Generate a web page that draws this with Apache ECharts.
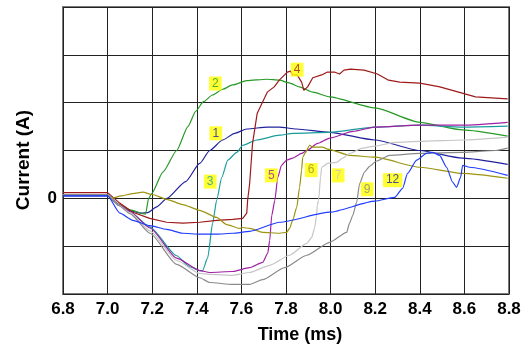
<!DOCTYPE html>
<html>
<head>
<meta charset="utf-8">
<script src="https://cdn.jsdelivr.net/npm/echarts@6/dist/echarts.min.js"></script>
<style>
  html, body { margin: 0; padding: 0; background: #fff; }
  #chart { width: 526px; height: 345px; }
</style>
</head>
<body>
<div id="chart"></div>
<script>
// Axis ticks
const timeTicks = [6.8, 7.0, 7.2, 7.4, 7.6, 7.8, 8.0, 8.2, 8.4, 8.6, 8.8];
const currentTickLabels = { 0: '0' };

// Current traces, [time (ms), current] pairs
const trace1 = [[6.8,0.05],[7.0,0.05],[7.05,-0.14],[7.1,-0.26],[7.15,-0.31],[7.18,-0.3],[7.22,-0.18],[7.266,0],[7.35,0.35],[7.413,0.73],[7.458,1.0],[7.516,1.22],[7.57,1.36],[7.624,1.45],[7.716,1.49],[7.77,1.49],[7.846,1.45],[7.996,1.38],[8.198,1.22],[8.40,1.0],[8.592,0.84],[8.794,0.71]];
const trace2 = [[6.8,0.08],[7.0,0.08],[7.05,-0.12],[7.1,-0.24],[7.17,-0.33],[7.184,0],[7.198,0.1],[7.248,0.55],[7.31,1.0],[7.36,1.5],[7.395,1.82],[7.43,2.02],[7.47,2.16],[7.516,2.28],[7.56,2.37],[7.624,2.46],[7.713,2.49],[7.77,2.47],[7.817,2.41],[7.86,2.33],[7.92,2.22],[7.996,2.12],[8.198,1.89],[8.40,1.59],[8.592,1.43],[8.794,1.30]];
const trace3 = [[6.8,0.08],[7.0,0.08],[7.05,-0.15],[7.1,-0.28],[7.19,-0.6],[7.31,-1.2],[7.368,-1.43],[7.413,-1.51],[7.426,-1.51],[7.449,-1.24],[7.471,-0.52],[7.489,-0.04],[7.512,0.44],[7.539,0.8],[7.579,0.96],[7.606,1.11],[7.668,1.22],[7.772,1.32],[7.83,1.36],[7.996,1.38],[8.198,1.49],[8.40,1.53],[8.592,1.49],[8.794,1.51]];
const trace4 = [[6.8,0.12],[7.0,0.12],[7.054,-0.1],[7.113,-0.29],[7.189,-0.42],[7.265,-0.5],[7.337,-0.52],[7.413,-0.5],[7.489,-0.46],[7.561,-0.44],[7.606,-0.42],[7.624,-0.31],[7.628,-0.04],[7.637,0.31],[7.65,1.15],[7.671,1.78],[7.716,2.22],[7.747,2.33],[7.77,2.47],[7.806,2.64],[7.82,2.66],[7.83,2.58],[7.85,2.58],[7.87,2.43],[7.88,2.26],[7.897,2.33],[7.92,2.52],[7.96,2.58],[7.986,2.64],[8.017,2.64],[8.04,2.6],[8.06,2.68],[8.09,2.7],[8.15,2.68],[8.21,2.6],[8.26,2.47],[8.31,2.43],[8.40,2.41],[8.49,2.33],[8.59,2.2],[8.65,2.12],[8.794,2.08]];
const trace5 = [[6.8,0.08],[7.0,0.08],[7.05,-0.13],[7.1,-0.28],[7.19,-0.62],[7.31,-1.25],[7.413,-1.51],[7.458,-1.55],[7.56,-1.53],[7.637,-1.45],[7.695,-1.34],[7.718,-1.15],[7.727,-0.88],[7.736,-0.36],[7.75,-0.04],[7.763,0.44],[7.78,0.69],[7.803,0.8],[7.83,0.84],[7.87,0.94],[7.893,1.0],[7.942,1.15],[7.996,1.26],[8.1,1.4],[8.198,1.49],[8.40,1.53],[8.592,1.53],[8.794,1.59]];
const trace6 = [[6.8,0.08],[7.0,0.08],[7.02,0.0],[7.06,0.05],[7.113,0.1],[7.158,0.13],[7.2,0.08],[7.265,-0.02],[7.337,-0.13],[7.413,-0.25],[7.489,-0.4],[7.534,-0.55],[7.592,-0.63],[7.606,-0.61],[7.637,-0.63],[7.695,-0.71],[7.772,-0.73],[7.803,-0.71],[7.816,-0.63],[7.83,-0.46],[7.848,-0.19],[7.861,0.23],[7.87,0.59],[7.875,0.86],[7.888,0.96],[7.906,1.11],[7.92,1.07],[7.964,1.07],[7.987,1.03],[8.085,0.9],[8.198,0.86],[8.40,0.65],[8.592,0.52],[8.794,0.42]];
const trace7 = [[6.8,0.08],[7.0,0.08],[7.05,-0.14],[7.1,-0.3],[7.19,-0.68],[7.31,-1.3],[7.413,-1.57],[7.458,-1.59],[7.56,-1.61],[7.637,-1.55],[7.727,-1.4],[7.816,-1.19],[7.893,-0.94],[7.915,-0.82],[7.928,-0.63],[7.937,-0.36],[7.94,-0.15],[7.946,-0.04],[7.955,0.44],[7.96,0.65],[7.987,0.73],[8.027,0.75],[8.054,0.84],[8.085,0.94],[8.143,1.05],[8.198,1.09],[8.29,1.17],[8.40,1.19],[8.592,1.22],[8.794,1.28]];
const trace9 = [[6.8,0.08],[7.0,0.08],[7.05,-0.15],[7.1,-0.32],[7.19,-0.73],[7.31,-1.38],[7.413,-1.66],[7.458,-1.76],[7.56,-1.8],[7.637,-1.8],[7.695,-1.7],[7.794,-1.45],[7.893,-1.19],[7.996,-0.92],[8.072,-0.71],[8.085,-0.52],[8.099,-0.36],[8.117,-0.08],[8.13,0.31],[8.152,0.55],[8.175,0.67],[8.206,0.78],[8.264,0.9],[8.40,0.94],[8.592,0.96],[8.74,1.0],[8.794,1.05]];
const trace12 = [[6.8,0.05],[7.0,0.05],[7.055,-0.31],[7.113,-0.46],[7.189,-0.57],[7.265,-0.65],[7.337,-0.73],[7.413,-0.75],[7.489,-0.75],[7.561,-0.73],[7.637,-0.69],[7.772,-0.5],[7.996,-0.29],[8.198,-0.06],[8.287,0.02],[8.323,0.21],[8.345,0.52],[8.386,0.8],[8.43,0.94],[8.458,0.96],[8.489,0.9],[8.52,0.65],[8.547,0.34],[8.565,0.23],[8.583,0.44],[8.592,0.69],[8.623,0.65],[8.794,0.48]];

// Trace tags and where they sit
const tagNames = ['1', '2', '3', '4', '5', '6', '7', '9', '12'];
const tagSpots = [[7.485,1.36],[7.483,2.4],[7.46,0.35],[7.85,2.69],[7.734,0.48],[7.913,0.59],[8.034,0.48],[8.164,0.19],[8.278,0.38]];

const traces = [trace1, trace2, trace3, trace4, trace5, trace6, trace7, trace9, trace12];
const colors = ['#20209c', '#259a25', '#1a9c9c', '#9e1a1a', '#a020a4', '#9c9410', '#c6c6c6', '#8a8a8a', '#1f3cff'];
const tagTextColors = ['#20209c', '#259a25', '#1a9c9c', '#9e1a1a', '#a020a4', '#9c9410', '#c6c6c6', '#8a8a8a', '#20209c'];

const FONT = 'Liberation Sans, Arial, sans-serif';

const chart = echarts.init(document.getElementById('chart'), null, { renderer: 'canvas' });

const lineSeries = traces.map((d, i) => ({
  type: 'line',
  name: 'Trace ' + tagNames[i],
  data: d,
  showSymbol: false,
  symbol: 'none',
  smooth: i === 3 ? false : 0.2,
  smoothMonotone: 'x',
  lineStyle: { color: colors[i], width: 1.2 },
  z: 3,
  animation: false
}));

const tagSeries = {
  type: 'scatter',
  symbolSize: 0,
  z: 10,
  animation: false,
  data: tagSpots.map((p, i) => ({
    value: p,
    label: {
      show: true,
      position: 'inside',
      formatter: tagNames[i],
      color: tagTextColors[i],
      backgroundColor: '#ffff00',
      padding: [1, 3, 1, 3],
      fontFamily: FONT,
      fontSize: 12
    }
  }))
};

chart.setOption({
  backgroundColor: '#ffffff',
  animation: false,
  grid: { left: 63, right: 17, top: 7, bottom: 51, show: true, borderColor: '#7a7a7a', borderWidth: 2, backgroundColor: 'transparent' },
  xAxis: {
    type: 'value',
    min: timeTicks[0],
    max: timeTicks[timeTicks.length - 1],
    interval: 0.2,
    axisLine: { show: false },
    axisTick: { show: false },
    axisLabel: {
      margin: 7,
      fontFamily: FONT, fontSize: 17, fontWeight: 'bold', color: '#000',
      formatter: v => v.toFixed(1)
    },
    splitLine: { show: true, lineStyle: { color: '#222', width: 1 } }
  },
  yAxis: {
    type: 'value',
    min: -2,
    max: 4,
    interval: 1,
    axisLine: { show: false },
    axisTick: { show: false },
    axisLabel: {
      margin: 6,
      fontFamily: FONT, fontSize: 17, fontWeight: 'bold', color: '#000',
      formatter: v => (currentTickLabels[v] !== undefined ? currentTickLabels[v] : '')
    },
    splitLine: { show: true, lineStyle: { color: '#222', width: 1 } }
  },
  graphic: [{
    type: 'text',
    x: 24,
    y: 160,
    rotation: Math.PI / 2,
    style: {
      text: 'Current (A)',
      fill: '#000',
      font: 'bold 19px ' + FONT,
      align: 'center',
      verticalAlign: 'middle'
    }
  }, {
    type: 'text',
    x: 300,
    y: 335,
    style: {
      text: 'Time (ms)',
      fill: '#000',
      font: 'bold 18px ' + FONT,
      align: 'center',
      verticalAlign: 'middle'
    }
  }],
  series: [...lineSeries, tagSeries]
});
</script>
</body>
</html>
